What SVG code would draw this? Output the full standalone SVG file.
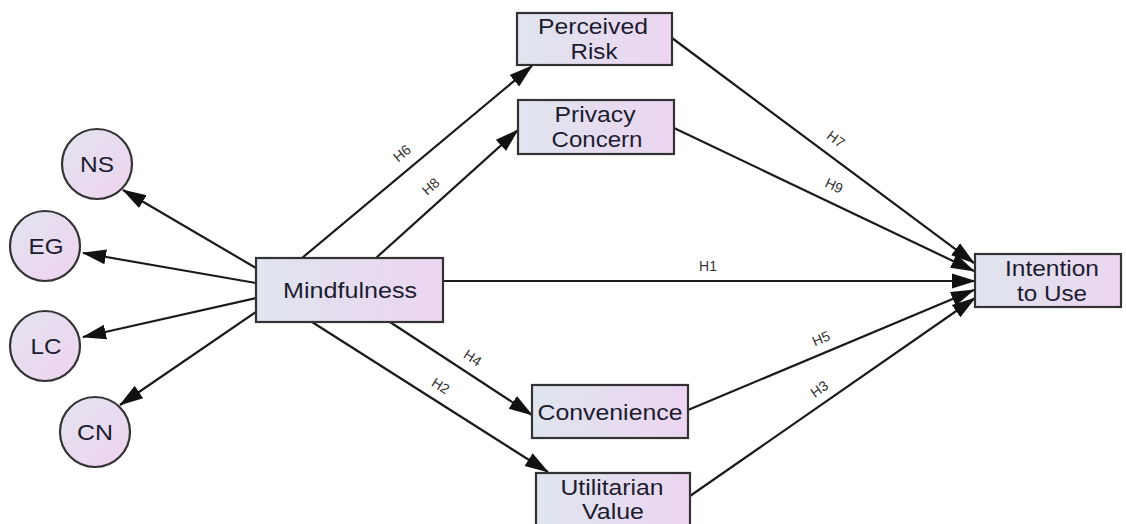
<svg xmlns="http://www.w3.org/2000/svg" width="1126" height="524" viewBox="0 0 1126 524">
<defs>
<linearGradient id="gbox" x1="0" y1="0" x2="1" y2="0">
<stop offset="0" stop-color="#dfe5ee"/><stop offset="1" stop-color="#ecd5f1"/>
</linearGradient>
<linearGradient id="gcir" x1="0" y1="0" x2="1" y2="1">
<stop offset="0" stop-color="#e2e4f0"/><stop offset="1" stop-color="#efd3ef"/>
</linearGradient>
<marker id="arr" markerUnits="userSpaceOnUse" markerWidth="24" markerHeight="18" viewBox="0 0 24 18" refX="23" refY="9" orient="auto">
<path d="M0,1.5 L24,9 L0,16.5 Z" fill="#111"/>
</marker>
<style>
.box{fill:url(#gbox);stroke:#333;stroke-width:2.2}
.cir{fill:url(#gcir);stroke:#333;stroke-width:2.2}
.t{font-family:"Liberation Sans",Arial,sans-serif;font-size:22px;fill:#1c1c30;text-anchor:middle}
.lbl{font-family:"Liberation Sans",Arial,sans-serif;font-size:14px;fill:#333;text-anchor:middle}
.ln{stroke:#1a1a1a;stroke-width:2.2;fill:none}
.ar{marker-end:url(#arr)}
</style>
</defs>
<g id="connectors">
<line class="ln ar" x1="256" y1="268" x2="123" y2="190"/>
<line class="ln ar" x1="256" y1="283" x2="83" y2="253"/>
<line class="ln ar" x1="256" y1="298" x2="83" y2="337"/>
<line class="ln ar" x1="256" y1="312" x2="120" y2="405"/>
<line class="ln ar" x1="302" y1="258" x2="532" y2="66"/>
<line class="ln ar" x1="376" y1="258" x2="518" y2="130"/>
<line class="ln ar" x1="443" y1="281" x2="975" y2="281"/>
<line class="ln ar" x1="390" y1="322" x2="532" y2="415"/>
<line class="ln ar" x1="312" y1="322" x2="548" y2="472"/>
<line class="ln ar" x1="672" y1="38" x2="974" y2="263"/>
<line class="ln ar" x1="674" y1="128" x2="974" y2="271"/>
<line class="ln ar" x1="688" y1="410" x2="974" y2="290"/>
<line class="ln ar" x1="690" y1="496" x2="975" y2="298"/>
<text class="lbl" transform="translate(405,157) rotate(-40)">H6</text>
<text class="lbl" transform="translate(434,190) rotate(-42)">H8</text>
<text class="lbl" transform="translate(833,143) rotate(37)">H7</text>
<text class="lbl" transform="translate(832,190) rotate(25)">H9</text>
<text class="lbl" transform="translate(708,271)">H1</text>
<text class="lbl" transform="translate(823,343) rotate(-23)">H5</text>
<text class="lbl" transform="translate(822,393) rotate(-35)">H3</text>
<text class="lbl" transform="translate(470,362) rotate(33)">H4</text>
<text class="lbl" transform="translate(438,390) rotate(32)">H2</text>
</g>
<g id="node-mindfulness">
<rect class="box" x="256" y="258" width="187" height="64"/>
<text class="t" x="350" y="298" textLength="134" lengthAdjust="spacingAndGlyphs">Mindfulness</text>
</g>
<g id="node-ns">
<circle class="cir" cx="97" cy="164" r="35"/>
<text class="t" x="97" y="172" textLength="34" lengthAdjust="spacingAndGlyphs">NS</text>
</g>
<g id="node-eg">
<circle class="cir" cx="45" cy="246" r="35"/>
<text class="t" x="46" y="254" textLength="35" lengthAdjust="spacingAndGlyphs">EG</text>
</g>
<g id="node-lc">
<circle class="cir" cx="45" cy="346" r="35"/>
<text class="t" x="46" y="354" textLength="31" lengthAdjust="spacingAndGlyphs">LC</text>
</g>
<g id="node-cn">
<circle class="cir" cx="95" cy="432" r="35"/>
<text class="t" x="95" y="440" textLength="36" lengthAdjust="spacingAndGlyphs">CN</text>
</g>
<g id="node-perceived-risk">
<rect class="box" x="517" y="13" width="155" height="52"/>
<text class="t" x="593" y="34" textLength="110" lengthAdjust="spacingAndGlyphs">Perceived</text>
<text class="t" x="594" y="59" textLength="47" lengthAdjust="spacingAndGlyphs">Risk</text>
</g>
<g id="node-privacy-concern">
<rect class="box" x="518" y="100" width="156" height="54"/>
<text class="t" x="595" y="122" textLength="81" lengthAdjust="spacingAndGlyphs">Privacy</text>
<text class="t" x="597" y="147" textLength="91" lengthAdjust="spacingAndGlyphs">Concern</text>
</g>
<g id="node-convenience">
<rect class="box" x="532" y="385" width="156" height="53"/>
<text class="t" x="610" y="420" textLength="145" lengthAdjust="spacingAndGlyphs">Convenience</text>
</g>
<g id="node-utilitarian-value">
<rect class="box" x="536" y="473" width="154" height="56"/>
<text class="t" x="612" y="495" textLength="103" lengthAdjust="spacingAndGlyphs">Utilitarian</text>
<text class="t" x="613" y="519" textLength="62" lengthAdjust="spacingAndGlyphs">Value</text>
</g>
<g id="node-intention-to-use">
<rect class="box" x="975" y="254" width="146" height="53"/>
<text class="t" x="1052" y="276" textLength="94" lengthAdjust="spacingAndGlyphs">Intention</text>
<text class="t" x="1052" y="301" textLength="70" lengthAdjust="spacingAndGlyphs">to Use</text>
</g>
</svg>
